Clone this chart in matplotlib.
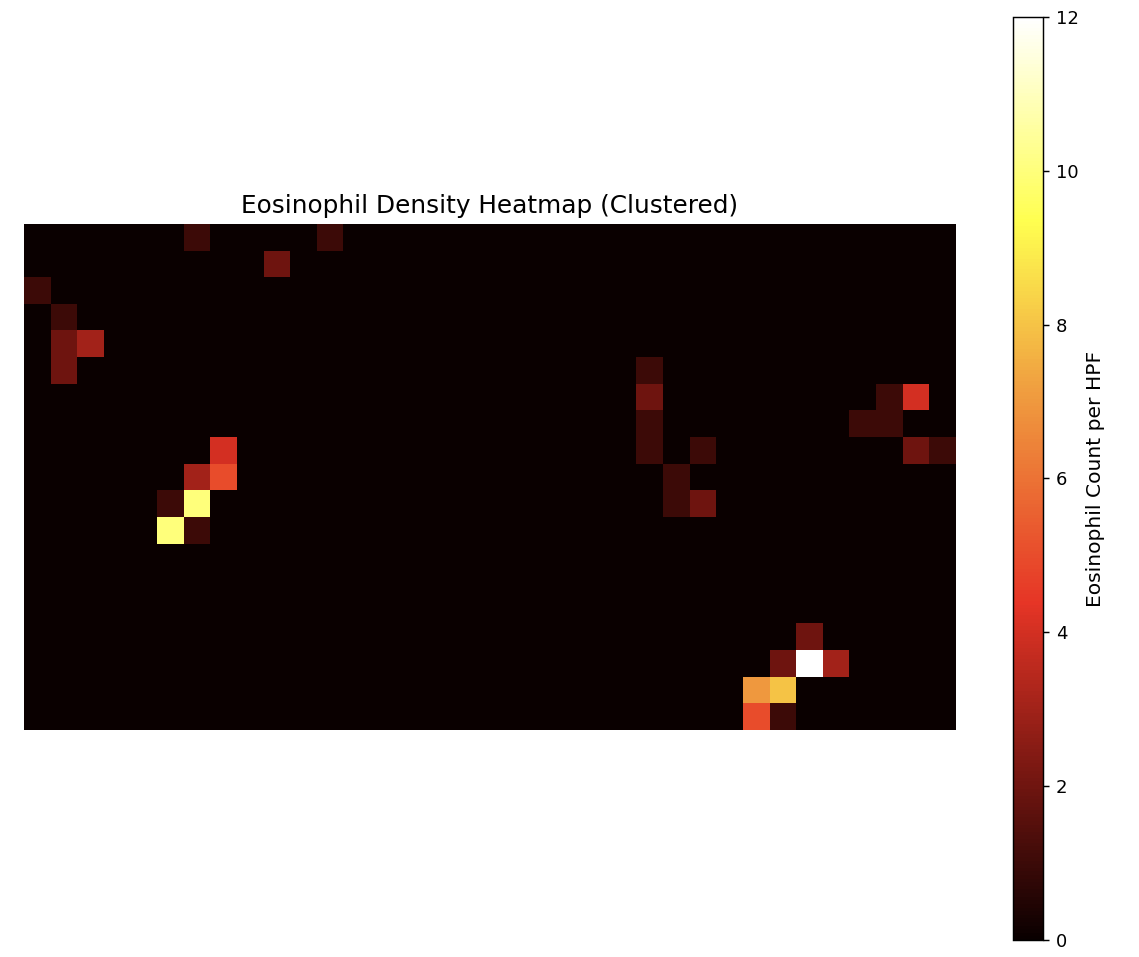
import numpy as np
import matplotlib
matplotlib.use("Agg")
import matplotlib.pyplot as plt
from matplotlib.colors import LinearSegmentedColormap

n_rows = 19
n_cols = 35

# (row, col, count) for every non-zero cell
cell_rows = [0, 0, 1, 2, 3, 4, 4, 5,
             8, 9, 9, 10, 10, 11, 11,
             5, 6, 7, 8, 8, 9, 10, 10,
             6, 6, 7, 7, 8, 8,
             15, 16, 16, 16, 17, 17, 18, 18]
cell_cols = [6, 11, 9, 0, 1, 1, 2, 1,
             7, 6, 7, 5, 6, 5, 6,
             23, 23, 23, 23, 25, 24, 24, 25,
             32, 33, 31, 32, 33, 34,
             29, 28, 29, 30, 27, 28, 27, 28]
cell_counts = [1, 1, 2, 1, 1, 2, 3, 2,
               4, 3, 5, 1, 10, 10, 1,
               1, 2, 1, 1, 1, 1, 1, 2,
               1, 4, 1, 1, 2, 1,
               2, 2, 12, 3, 7, 8, 5, 1]

cmap_stops = [0.0, 0.167, 0.365, 0.6, 0.78, 1.0]
cmap_colors = ["#0a0000", "#701510", "#e63526", "#f0a040", "#ffff50", "#ffffff"]

grid = np.zeros((n_rows, n_cols))
for r, c, v in zip(cell_rows, cell_cols, cell_counts):
    grid[r, c] = v

cmap = LinearSegmentedColormap.from_list("eos", list(zip(cmap_stops, cmap_colors)))

fig = plt.figure(figsize=(1139 / 130, 957 / 130), dpi=130)
ax = fig.add_axes([0.0211, 0.2372, 0.8174, 0.5287])
cax = fig.add_axes([0.8894, 0.0178, 0.0263, 0.9645])

im = ax.imshow(grid, cmap=cmap, vmin=0, vmax=12, aspect="auto", interpolation="nearest")
ax.set_title("Eosinophil Density Heatmap (Clustered)", fontsize=13.7)
ax.axis("off")

cbar = fig.colorbar(im, cax=cax)
cbar.set_label("Eosinophil Count per HPF", fontsize=11.2)

fig.savefig("out.png", dpi=130)
